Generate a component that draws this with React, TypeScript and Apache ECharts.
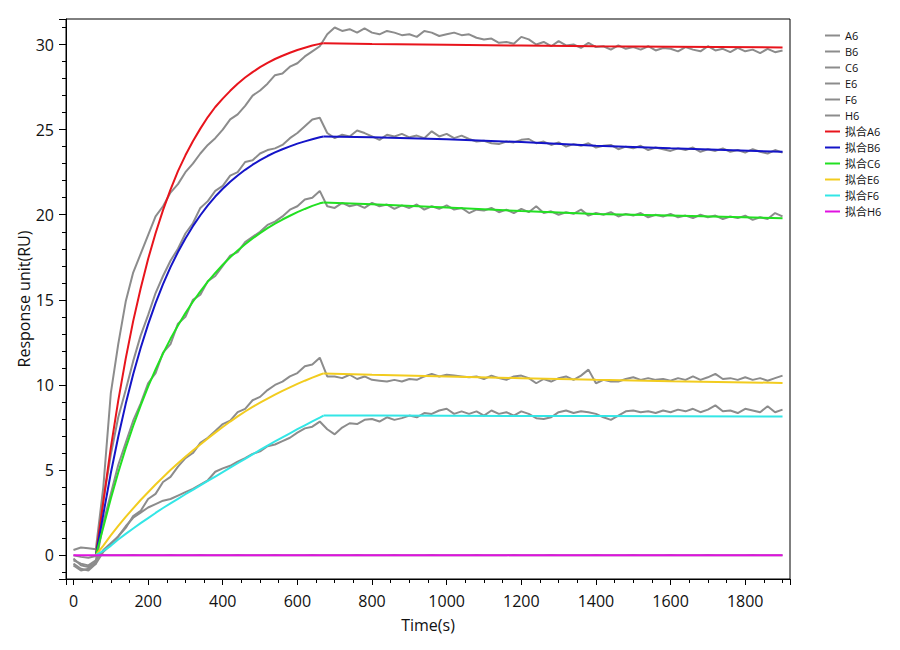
import React, { useEffect, useRef } from "react";
import * as echarts from "echarts";

const rawTime = [
  0, 20, 40, 60, 80, 100, 120, 140, 160, 180, 200, 220, 240, 260, 280, 300, 320, 340, 360, 380,
  400, 420, 440, 460, 480, 500, 520, 540, 560, 580, 600, 620, 640, 660, 680, 700, 720, 740, 760, 780,
  800, 820, 840, 860, 880, 900, 920, 940, 960, 980, 1000, 1020, 1040, 1060, 1080, 1100, 1120, 1140, 1160, 1180,
  1200, 1220, 1240, 1260, 1280, 1300, 1320, 1340, 1360, 1380, 1400, 1420, 1440, 1460, 1480, 1500, 1520, 1540, 1560, 1580,
  1600, 1620, 1640, 1660, 1680, 1700, 1720, 1740, 1760, 1780, 1800, 1820, 1840, 1860, 1880, 1900,
];

const rawA6 = [
  0.3, 0.45, 0.4, 0.35, 4.0, 9.5, 12.4, 14.9, 16.6, 17.7, 18.8, 19.9, 20.5, 21.3, 21.8, 22.5, 23.0, 23.6, 24.1, 24.5,
  25.0, 25.6, 25.9, 26.4, 27.0, 27.3, 27.7, 28.2, 28.3, 28.7, 28.9, 29.3, 29.6, 29.9, 30.6, 31.0, 30.8, 30.9, 30.7, 30.95,
  30.7, 30.6, 30.8, 30.7, 30.55, 30.6, 30.45, 30.8, 30.7, 30.5, 30.6, 30.7, 30.55, 30.6, 30.4, 30.3, 30.35, 30.1, 30.15, 30.05,
  30.45, 30.3, 30.0, 30.15, 29.9, 30.2, 29.95, 30.0, 29.8, 30.1, 29.85, 29.9, 29.7, 29.95, 29.75, 29.85, 29.7, 29.9, 29.65, 29.8,
  29.75, 29.6, 29.85, 29.7, 29.6, 29.9, 29.65, 29.75, 29.55, 29.8, 29.6, 29.7, 29.5, 29.75, 29.55, 29.65,
];

const rawB6 = [
  -0.2, -0.6, -0.7, -0.4, 3.2, 5.9, 8.1, 9.7, 11.4, 12.9, 14.1, 15.4, 16.4, 17.3, 18.0, 18.9, 19.5, 20.4, 20.8, 21.4,
  21.7, 22.3, 22.5, 23.1, 23.2, 23.6, 23.8, 23.9, 24.1, 24.5, 24.8, 25.2, 25.6, 25.7, 24.8, 24.5, 24.7, 24.6, 24.95, 24.8,
  24.6, 24.4, 24.7, 24.6, 24.75, 24.55, 24.65, 24.5, 24.9, 24.6, 24.75, 24.5, 24.65, 24.45, 24.3, 24.35, 24.2, 24.15, 24.3, 24.25,
  24.4, 24.45, 24.2, 24.3, 24.1, 24.25, 24.0, 24.15, 24.05, 24.2, 23.95, 24.05, 24.1, 23.85, 24.0, 23.9, 24.05, 23.8, 23.95, 23.85,
  23.75, 23.9, 23.8, 23.95, 23.7, 23.85, 23.75, 23.9, 23.7, 23.8, 23.65, 23.85, 23.7, 23.6, 23.8, 23.65,
];

const rawC6 = [
  -0.5, -0.8, -0.9, -0.5, 1.9, 3.6, 5.3, 6.6, 7.9, 8.9, 10.1, 10.7, 11.9, 12.4, 13.6, 14.0, 15.0, 15.3, 16.1, 16.4,
  17.0, 17.6, 17.8, 18.4, 18.7, 19.0, 19.4, 19.6, 19.9, 20.3, 20.5, 20.9, 21.0, 21.4, 20.5, 20.4, 20.7, 20.5, 20.6, 20.4,
  20.7, 20.5, 20.6, 20.35, 20.55, 20.4, 20.6, 20.3, 20.5, 20.35, 20.55, 20.3, 20.4, 20.1, 20.3, 20.25, 20.4, 20.15, 20.3, 20.1,
  20.35, 20.15, 20.5, 20.1, 20.2, 20.0, 20.15, 20.05, 20.3, 19.95, 20.1, 20.0, 20.15, 19.9, 20.05, 19.95, 20.1, 19.85, 20.0, 19.9,
  20.05, 19.85, 19.95, 19.8, 20.0, 19.85, 19.95, 19.75, 19.9, 19.8, 19.95, 19.7, 19.85, 19.75, 20.1, 19.9,
];

const rawE6 = [
  -0.3, -0.5, -0.6, -0.3, 0.3, 0.7, 1.1, 1.6, 2.3, 2.6, 3.3, 3.6, 4.3, 4.6, 5.2, 5.7, 6.0, 6.6, 6.9, 7.3,
  7.7, 7.9, 8.4, 8.6, 9.1, 9.3, 9.7, 10.0, 10.2, 10.5, 10.7, 11.1, 11.2, 11.6, 10.5, 10.5, 10.4, 10.6, 10.35, 10.5,
  10.3, 10.25, 10.2, 10.3, 10.2, 10.35, 10.3, 10.5, 10.65, 10.5, 10.6, 10.55, 10.5, 10.45, 10.5, 10.35, 10.55, 10.4, 10.3, 10.5,
  10.55, 10.4, 10.1, 10.35, 10.2, 10.4, 10.5, 10.3, 10.55, 10.9, 10.1, 10.3, 10.2, 10.2, 10.35, 10.45, 10.3, 10.4, 10.3, 10.35,
  10.25, 10.4, 10.3, 10.5, 10.3, 10.45, 10.65, 10.35, 10.4, 10.3, 10.45, 10.3, 10.4, 10.25, 10.4, 10.55,
];

const rawF6 = [
  -0.6, -0.9, -0.8, -0.5, 0.2, 0.6, 1.1, 1.7, 2.2, 2.5, 2.8, 3.0, 3.2, 3.3, 3.5, 3.7, 3.9, 4.15, 4.4, 4.9,
  5.1, 5.25, 5.5, 5.7, 5.95, 6.1, 6.4, 6.5, 6.7, 6.9, 7.2, 7.45, 7.55, 7.85, 7.4, 7.1, 7.5, 7.75, 7.7, 7.95,
  8.0, 7.85, 8.1, 7.95, 8.05, 8.2, 8.1, 8.35, 8.3, 8.5, 8.6, 8.3, 8.45, 8.3, 8.45, 8.2, 8.5, 8.3, 8.4, 8.2,
  8.45, 8.3, 8.05, 8.0, 8.1, 8.4, 8.5, 8.35, 8.45, 8.4, 8.3, 8.1, 7.95, 8.2, 8.45, 8.5, 8.4, 8.45, 8.35, 8.5,
  8.4, 8.55, 8.45, 8.6, 8.4, 8.55, 8.8, 8.45, 8.5, 8.35, 8.6, 8.5, 8.4, 8.75, 8.4, 8.55,
];

const rawH6 = [
  0.0, -0.1, -0.15, -0.05, 0.01, 0.0, -0.01, 0.0, 0.01, 0.0, -0.01, 0.0, 0.0, 0.01, 0.0, -0.01, 0.0, 0.01, 0.0, 0.0,
  -0.01, 0.0, 0.01, 0.0, 0.0, -0.01, 0.0, 0.01, 0.0, 0.0, -0.01, 0.0, 0.01, 0.0, 0.0, -0.01, 0.0, 0.0, 0.01, 0.0,
  0.0, -0.01, 0.0, 0.01, 0.0, 0.0, -0.01, 0.0, 0.01, 0.0, 0.0, 0.0, -0.01, 0.0, 0.01, 0.0, 0.0, -0.01, 0.0, 0.01,
  0.0, 0.0, -0.01, 0.0, 0.01, 0.0, 0.0, -0.01, 0.0, 0.0, 0.01, 0.0, -0.01, 0.0, 0.0, 0.01, 0.0, 0.0, -0.01, 0.0,
  0.01, 0.0, 0.0, -0.01, 0.0, 0.01, 0.0, 0.0, -0.01, 0.0, 0.0, 0.01, 0.0, -0.01, 0.0, 0.0,
];

// fitted curves: association phase and dissociation phase
const assocTime = [
  60, 80, 100, 120, 140, 160, 180, 200, 220, 240, 260, 280, 300, 320, 340, 360, 380,
  400, 420, 440, 460, 480, 500, 520, 540, 560, 580, 600, 620, 640, 660, 670,
];
const dissocTime = [670, 800, 1000, 1200, 1400, 1600, 1900];

const assocA6 = [
  0, 3.16, 6.3, 9.08, 11.55, 13.75, 15.67, 17.4, 18.91, 20.27, 21.48, 22.56, 23.49, 24.32, 25.06, 25.74, 26.33,
  26.82, 27.28, 27.7, 28.06, 28.38, 28.67, 28.92, 29.15, 29.34, 29.52, 29.68, 29.81, 29.94, 30.04, 30.08,
];
const dissocA6 = [30.08, 30.03, 29.98, 29.94, 29.9, 29.87, 29.83];
const assocB6 = [
  0, 2.4, 4.81, 6.96, 8.89, 10.63, 12.17, 13.56, 14.81, 15.92, 16.92, 17.81, 18.61, 19.33, 19.97, 20.55, 21.07,
  21.53, 21.94, 22.31, 22.64, 22.94, 23.21, 23.45, 23.66, 23.85, 24.02, 24.18, 24.31, 24.44, 24.55, 24.6,
];
const dissocB6 = [24.6, 24.56, 24.43, 24.27, 24.05, 23.9, 23.7];
const assocC6 = [
  0, 1.64, 3.32, 4.86, 6.29, 7.59, 8.79, 9.9, 10.91, 11.85, 12.71, 13.49, 14.22, 14.89, 15.5, 16.07, 16.58,
  17.06, 17.5, 17.9, 18.27, 18.61, 18.92, 19.21, 19.48, 19.72, 19.94, 20.15, 20.34, 20.52, 20.67, 20.72,
];
const dissocC6 = [20.72, 20.62, 20.42, 20.22, 20.05, 19.95, 19.8];
const assocE6 = [
  0, 0.56, 1.16, 1.72, 2.25, 2.75, 3.24, 3.7, 4.15, 4.58, 5.0, 5.4, 5.78, 6.15, 6.5, 6.86, 7.2,
  7.53, 7.85, 8.15, 8.44, 8.71, 8.96, 9.2, 9.43, 9.65, 9.86, 10.06, 10.25, 10.43, 10.6, 10.68,
];
const dissocE6 = [10.68, 10.6, 10.5, 10.4, 10.3, 10.22, 10.12];
const assocF6 = [
  0, 0.25, 0.55, 0.92, 1.25, 1.57, 1.88, 2.18, 2.48, 2.77, 3.04, 3.31, 3.58, 3.84, 4.1, 4.36, 4.62,
  4.88, 5.14, 5.4, 5.66, 5.92, 6.18, 6.44, 6.68, 6.92, 7.16, 7.4, 7.63, 7.86, 8.08, 8.2,
];
const dissocF6 = [8.2, 8.2, 8.19, 8.18, 8.17, 8.16, 8.15];
const fitH6Time = [0, 1900];
const fitH6 = [0, 0];

const rawNames = ["A6", "B6", "C6", "E6", "F6", "H6"];
const fitNames = ["拟合A6", "拟合B6", "拟合C6", "拟合E6", "拟合F6", "拟合H6"];
const rawColor = "#8c8c8c";
const fitColors = ["#e8141c", "#1414c8", "#22e022", "#f2cc1f", "#33e6e6", "#e012e0"];

const FONT = "'Open Sans', 'Noto Sans CJK SC', sans-serif";

function pairs(xs: number[], ys: number[]) {
  return ys.map((y, i) => [xs[i], y]);
}

function lineSeries(name: string, data: number[][], color: string) {
  return {
    name,
    type: "line",
    data,
    symbol: "none",
    showSymbol: false,
    silent: true,
    lineStyle: { color, width: 2 },
    itemStyle: { color },
  };
}

export default function App() {
  const ref = useRef<HTMLDivElement>(null);
  useEffect(() => {
    if (!ref.current) return;
    const chart = echarts.init(ref.current, undefined, { renderer: "svg" });
    const raws = [rawA6, rawB6, rawC6, rawE6, rawF6, rawH6];
    const assoc = [assocA6, assocB6, assocC6, assocE6, assocF6];
    const dissoc = [dissocA6, dissocB6, dissocC6, dissocE6, dissocF6];
    const series: any[] = [];
    raws.forEach((r, i) => {
      series.push(lineSeries(rawNames[i], pairs(rawTime, r), rawColor));
    });
    assoc.forEach((a, i) => {
      series.push(lineSeries(fitNames[i], pairs(assocTime, a), fitColors[i]));
      series.push(lineSeries(fitNames[i], pairs(dissocTime, dissoc[i]), fitColors[i]));
    });
    series.push(lineSeries(fitNames[5], pairs(fitH6Time, fitH6), fitColors[5]));

    chart.setOption({
      animation: false,
      backgroundColor: "#fff",
      textStyle: { fontFamily: FONT },
      grid: {
        left: 66,
        top: 19,
        right: 110,
        bottom: 71,
        show: true,
        borderColor: "#000",
        borderWidth: 1,
        backgroundColor: "transparent",
      },
      legend: {
        orient: "vertical",
        left: 820,
        top: 25,
        icon: "rect",
        itemWidth: 15,
        itemHeight: 2,
        itemGap: 5,
        selectedMode: false,
        data: [...rawNames, ...fitNames],
        textStyle: { fontSize: 11, lineHeight: 11, color: "#111", fontFamily: FONT },
      },
      xAxis: {
        type: "value",
        min: -20,
        max: 1920,
        splitNumber: 10,
        name: "Time(s)",
        nameLocation: "middle",
        nameGap: 38,
        nameTextStyle: { fontSize: 16, color: "#111", fontFamily: FONT },
        axisLine: { show: true, onZero: false, lineStyle: { color: "#000", width: 1 } },
        axisTick: { show: true, length: 6, lineStyle: { color: "#000" } },
        minorTick: { show: true, splitNumber: 4, length: 4, lineStyle: { color: "#000" } },
        axisLabel: {
          fontSize: 16,
          color: "#111",
          margin: 14,
          showMinLabel: false,
          showMaxLabel: false,
          fontFamily: FONT,
          formatter: (v: number) => String(v),
        },
        splitLine: { show: false },
      },
      yAxis: {
        type: "value",
        min: -1.4,
        max: 31.5,
        splitNumber: 5,
        name: "Response unit(RU)",
        nameLocation: "middle",
        nameGap: 34,
        nameMoveOverlap: false,
        nameTextStyle: { fontSize: 16, color: "#111", fontFamily: FONT },
        axisLine: { show: true, onZero: false, lineStyle: { color: "#000", width: 1 } },
        axisTick: { show: true, length: 7, lineStyle: { color: "#000" } },
        minorTick: { show: true, splitNumber: 5, length: 4, lineStyle: { color: "#000" } },
        axisLabel: {
          fontSize: 16,
          color: "#111",
          margin: 12,
          showMinLabel: false,
          showMaxLabel: false,
          fontFamily: FONT,
          formatter: (v: number) => String(v),
        },
        splitLine: { show: false },
      },
      series,
    });
    return () => chart.dispose();
  }, []);
  return (
    <div
      ref={ref}
      style={{ position: "fixed", left: 0, top: 0, width: 900, height: 650, background: "#fff" }}
    />
  );
}
